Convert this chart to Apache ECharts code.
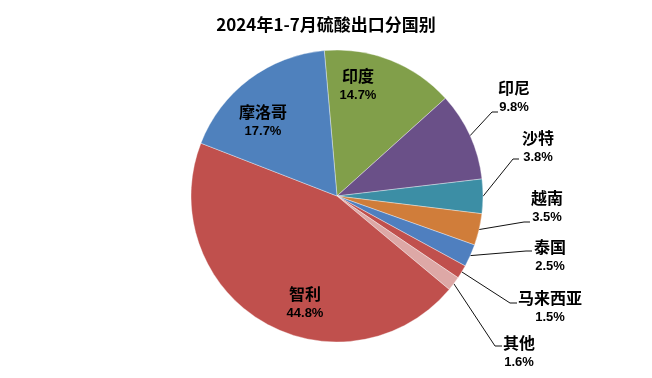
<!DOCTYPE html>
<html><head><meta charset="utf-8">
<script src="https://cdn.jsdelivr.net/npm/echarts@6/dist/echarts.min.js"></script>
<style>html,body{margin:0;padding:0;background:#fff}#c{width:652px;height:378px}</style>
</head><body><div id="c"></div>
<script>
const titleText = '2024年1-7月硫酸出口分国别';
const countries = ['印度','印尼','沙特','越南','泰国','马来西亚','其他','智利','摩洛哥'];
const shares = [14.7, 9.8, 3.8, 3.5, 2.5, 1.5, 1.6, 44.8, 17.7];

const colors = ['#819F4A','#6A5088','#3C8EA5','#D07D3A','#4F7FBF','#C0504D','#DDA8A6','#C0504D','#4F81BD'];
const insideSet = ['印度','智利','摩洛哥'];
// label centres and leader-line geometry (layout only)
const labelPos = [[358,85],[514,97],[538,147],[547,207],[550,256],[550,307],[519,352],[305,303],[263,121]];
const leaderElbow = [null,[492,112],[513,159],[524,222],[526,251],[510,303],[495,346],null,null];
const leaderEnd = [null,[498,112],[519,159],[530,222],[532,251],[517,303],[502,346],null,null];
const CX = 337, CY = 196, R = 146, START = 95;

const total = shares.reduce((a,b)=>a+b,0);
function edgePoint(i){
  let cum = 0; for(let k=0;k<i;k++) cum += shares[k];
  const th = ((cum + shares[i]/2)/total*360 - (START-90)) * Math.PI/180;
  return [CX + R*Math.sin(th), CY - R*Math.cos(th)];
}

const chart = echarts.init(document.getElementById('c'), null, {renderer:'canvas'});
const data = countries.map((n,i)=>{
  const inside = insideSet.includes(n);
  return {
    name:n, value:shares[i],
    itemStyle:{color:colors[i]},
    label:{position: inside?'inside':'outside'},
    labelLine:{show:!inside}
  };
});
chart.setOption({
  animation:false,
  title:{text:titleText,left:'center',top:11,textStyle:{fontSize:17,fontWeight:'bold',color:'#000',fontFamily:'"Noto Sans CJK SC", "Liberation Sans", sans-serif'}},
  series:[{
    type:'pie',
    center:[CX,CY],
    radius:R,
    startAngle:START,
    clockwise:true,
    avoidLabelOverlap:false,
    itemStyle:{borderColor:'rgba(255,255,255,0.6)',borderWidth:0.6},
    label:{
      show:true,
      formatter:p=>'{n|'+p.name+'}\n{v|'+p.value.toFixed(1)+'%}',
      align:'center',
      rich:{
        n:{fontSize:16,fontWeight:'bold',color:'#000',fontFamily:'"Noto Sans CJK SC", sans-serif',lineHeight:21,align:'center'},
        v:{fontSize:13,fontWeight:'bold',color:'#000',fontFamily:'"Liberation Sans", Arial, sans-serif',lineHeight:19,align:'center'}
      }
    },
    labelLine:{show:true,length:12,length2:6,lineStyle:{color:'#111',width:1}},
    labelLayout:function(p){
      const i = p.dataIndex;
      const pos = labelPos[i];
      const out = {x:pos[0], y:pos[1], align:'center', verticalAlign:'middle'};
      if (leaderEnd[i]) out.labelLinePoints = [edgePoint(i), leaderElbow[i], leaderEnd[i]];
      return out;
    },
    data:data
  }]
});
</script></body></html>
